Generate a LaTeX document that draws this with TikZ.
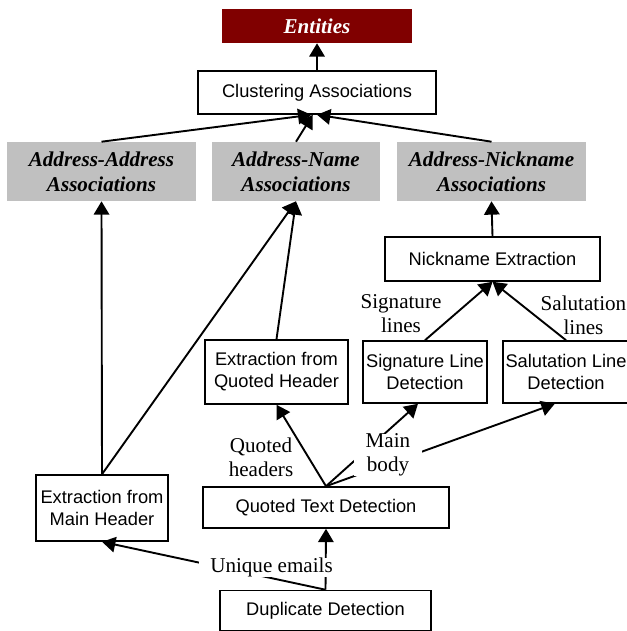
\documentclass[tikz,border=0pt]{standalone}
\usepackage{fontspec}
\setmainfont{Liberation Serif}
\setsansfont{Liberation Sans}
\usepackage{xcolor}
\usetikzlibrary{arrows.meta, positioning}
\definecolor{assocgray}{RGB}{192,192,192}
\definecolor{entred}{RGB}{128,0,0}

\begin{document}
\begin{tikzpicture}[
  x=0.025cm, y=-0.025cm,
  box/.style={rectangle, draw, line width=1.1pt, inner sep=0pt, align=center, font=\fontsize{13}{15.6}\selectfont\sffamily},
  assocbox/.style={rectangle, fill=assocgray, inner sep=0pt, align=center, minimum width=4.725cm, minimum height=1.475cm, font=\fontsize{15}{18}\selectfont\bfseries\itshape},
  entbox/.style={assocbox, fill=entred, text=white, minimum width=4.75cm, minimum height=0.85cm},
  lbl/.style={inner sep=0pt, align=center, font=\fontsize{15}{17}\selectfont},
  lblw/.style={lbl, fill=white, inner xsep=8pt},
  arr/.style={-{Triangle[length=9.5pt, width=11pt]}, line width=1.35pt},
]
  \useasboundingbox (0,0) rectangle (626,631);

  % Nodes
  \node[entbox] (ent) at (317,26) {Entities};
  \node[box, minimum width=5.95cm, minimum height=1.075cm] (clus) at (317,92.5) {Clustering Associations};
  \node[assocbox] (aa) at (101.5,171.5) {Address-Address\\Associations};
  \node[assocbox, minimum width=4.2cm] (an) at (296,171.5) {Address-Name\\Associations};
  \node[assocbox] (anick) at (491.5,171.5) {Address-Nickname\\Associations};
  \node[box, minimum width=5.375cm, minimum height=1.1cm] (nick) at (492.5,259) {Nickname Extraction};
  \node[box, minimum width=3.575cm, minimum height=1.6cm] (qhdr) at (276.5,372) {Extraction from\\Quoted Header};
  \node[box, minimum width=3.1cm, minimum height=1.55cm] (sig) at (425,372) {Signature Line\\Detection};
  \node[box, minimum width=3.15cm, minimum height=1.55cm] (sal) at (566,372) {Salutation Line\\Detection};
  \node[box, minimum width=3.3cm, minimum height=1.65cm] (mainhdr) at (102,508) {Extraction from\\Main Header};
  \node[box, minimum width=6.15cm, minimum height=1.025cm] (qtext) at (326,507.5) {Quoted Text Detection};
  \node[box, minimum width=5.275cm, minimum height=1.0cm] (dup) at (325.5,610.5) {Duplicate Detection};

  % Arrows
  \draw[arr] (clus) -- (ent);
  \draw[arr] (aa.north) -- ([xshift=-4pt]clus.south);
  \draw[arr] (an.north) -- ([xshift=-3pt]clus.south);
  \draw[arr] (anick.north) -- (clus.south);
  \draw[arr] (mainhdr.north) -- (aa.south);
  \draw[arr] (mainhdr.north) -- (an.south);
  \draw[arr] (qhdr.north) -- (an.south);
  \draw[arr] (nick.north) -- (anick.south);
  \draw[arr] (sig.north) -- (nick.south);
  \draw[arr] (sal.north) -- (nick.south);
  \draw[arr] (qtext.north) -- (qhdr.south);
  \draw[arr] (qtext.north) -- ([xshift=-5pt]sig.south);
  \draw[arr] (qtext.north) -- ([xshift=-8pt]sal.south);
  \draw[arr] (dup.north) -- (qtext.south);
  \draw[arr] (dup.north) -- (mainhdr.south);

  % Labels
  \node[lbl] (lsig) at (401,314) {Signature\\lines};
  \node[lbl] (lsal) at (583.5,315.5) {Salutation\\lines};
  \node[lbl] (lqh) at (261,457) {Quoted\\headers};
  \node[lblw] (lmb) at (388,455) {Main\\body};
  \node[lblw] (lue) at (271.5,567.5) {Unique emails};
\end{tikzpicture}
\end{document}
